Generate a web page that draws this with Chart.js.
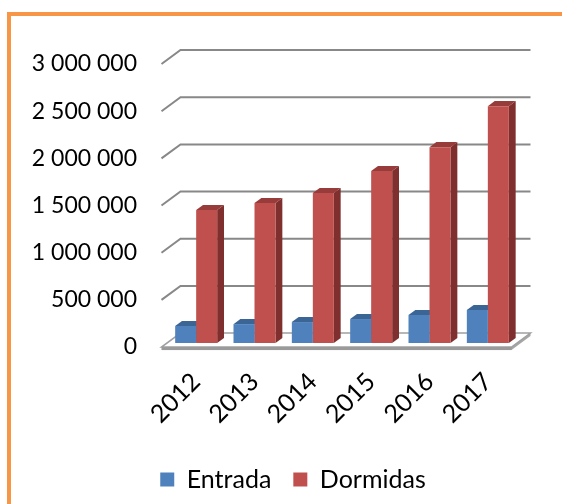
<!DOCTYPE html>
<html>
<head>
<meta charset="utf-8">
<script src="https://cdn.jsdelivr.net/npm/chart.js"></script>
<style>
  body { margin: 0; background: #fff; overflow: hidden; }
  #frame { position: absolute; left: 7px; top: 12px; width: 700px; height: 700px;
           border-left: 4px solid #F79646; border-top: 4px solid #F79646; }
  #chart { position: absolute; left: 0; top: 0; }
</style>
</head>
<body>
<div id="frame"></div>
<canvas id="chart" width="562" height="504"></canvas>
<script>
// dados
const years = ['2012', '2013', '2014', '2015', '2016', '2017'];
const entradas = [180000, 200000, 222000, 254000, 297000, 350000];
const dormidas = [1409000, 1483000, 1589000, 1822000, 2076000, 2511000];
const yTicks = [0, 500000, 1000000, 1500000, 2000000, 2500000, 3000000];

// profundidade do "3D" (chão e barras)
const floorDx = 19, floorDy = 14;
const barFront = 0.29, barDepth = 0.36;

function fmt(v) {
    return String(v).replace(/\B(?=(\d{3})+(?!\d))/g, ' ');
}

function poly(ctx, pts, fill, stroke, lw) {
    ctx.beginPath();
    ctx.moveTo(pts[0][0], pts[0][1]);
    for (let i = 1; i < pts.length; i++) ctx.lineTo(pts[i][0], pts[i][1]);
    ctx.closePath();
    if (fill) { ctx.fillStyle = fill; ctx.fill(); }
    if (stroke) { ctx.strokeStyle = stroke; ctx.lineWidth = lw; ctx.stroke(); }
}

const box3d = {
    id: 'box3d',
    beforeDatasetsDraw(chart) {
        const ctx = chart.ctx;
        const a = chart.chartArea;
        const y = chart.scales.y;
        const fx = -barFront * floorDx, fy = barFront * floorDy;
        const bx = (1 - barFront) * floorDx, by = -(1 - barFront) * floorDy;
        const y0 = y.getPixelForValue(0);

        ctx.save();
        // grelha na parede do fundo
        ctx.strokeStyle = '#888888';
        ctx.lineWidth = 2;
        yTicks.forEach(v => {
            if (v === 0) return;
            const py = y.getPixelForValue(v);
            ctx.beginPath();
            ctx.moveTo(a.left + fx, py + fy);
            ctx.lineTo(a.left + bx, py + by);
            ctx.lineTo(a.right + bx, py + by);
            ctx.stroke();
        });

        // chão
        poly(ctx, [
            [a.left + fx, y0 + fy + 3], [a.right + fx, y0 + fy + 3],
            [a.right + bx, y0 + by + 3], [a.right + bx, y0 + by]
        ], '#a6a6a6', null);
        poly(ctx, [
            [a.left + fx, y0 + fy], [a.right + fx, y0 + fy],
            [a.right + bx, y0 + by], [a.left + bx, y0 + by]
        ], '#ffffff', '#a0a0a0', 1.5);
        ctx.fillStyle = '#9a9a9a';
        ctx.fillRect(a.left + fx, y0 + fy, a.right - a.left, 3);

        // lados e topos das barras
        const dx = barDepth * floorDx, dy = barDepth * floorDy;
        chart.data.datasets.forEach((ds, i) => {
            chart.getDatasetMeta(i).data.forEach(el => {
                const x0 = el.x - el.width / 2, x1 = el.x + el.width / 2;
                poly(ctx, [[x1, el.y], [x1 + dx, el.y - dy], [x1 + dx, el.base - dy], [x1, el.base]], ds.sideColor);
                poly(ctx, [[x0, el.y], [x0 + dx, el.y - dy], [x1 + dx, el.y - dy], [x1, el.y]], ds.topColor);
            });
        });
        ctx.restore();
    }
};

new Chart(document.getElementById('chart'), {
    type: 'bar',
    data: {
        labels: years,
        datasets: [{
            label: 'Entrada',
            data: entradas,
            backgroundColor: '#4F81BD',
            topColor: '#3A6594',
            sideColor: '#2F5380'
        }, {
            label: 'Dormidas',
            data: dormidas,
            backgroundColor: '#C0504D',
            topColor: '#973C3A',
            sideColor: '#7F302E'
        }]
    },
    options: {
        responsive: false,
        animation: false,
        layout: { padding: { left: 24, top: 60, right: 0, bottom: 2 } },
        datasets: { bar: { barPercentage: 1, categoryPercentage: 0.72 } },
        plugins: {
            tooltip: { enabled: false },
            legend: {
                position: 'bottom',
                labels: {
                    boxWidth: 14,
                    boxHeight: 14,
                    padding: 22,
                    color: '#000',
                    font: { family: 'Lato', size: 25 }
                }
            }
        },
        scales: {
            x: {
                grid: { display: false, drawTicks: false },
                border: { display: false },
                afterFit: s => { s.height = 102; },
                ticks: {
                    minRotation: 45,
                    maxRotation: 45,
                    padding: 24,
                    color: '#000',
                    font: { family: 'Lato', size: 25 }
                }
            },
            y: {
                min: 0,
                max: 3000000,
                afterBuildTicks: s => { s.ticks = yTicks.map(v => ({ value: v })); },
                afterFit: s => { s.width = 143; },
                grid: { display: false, drawTicks: false },
                border: { display: false },
                ticks: {
                    padding: 30,
                    labelOffset: 4,
                    color: '#000',
                    font: { family: 'Lato', size: 23 },
                    callback: v => fmt(v)
                }
            },
            y2: {
                type: 'linear',
                position: 'right',
                afterFit: s => { s.width = 45; },
                grid: { display: false, drawTicks: false },
                border: { display: false },
                ticks: { display: false }
            }
        }
    },
    plugins: [box3d]
});
</script>
</body>
</html>
